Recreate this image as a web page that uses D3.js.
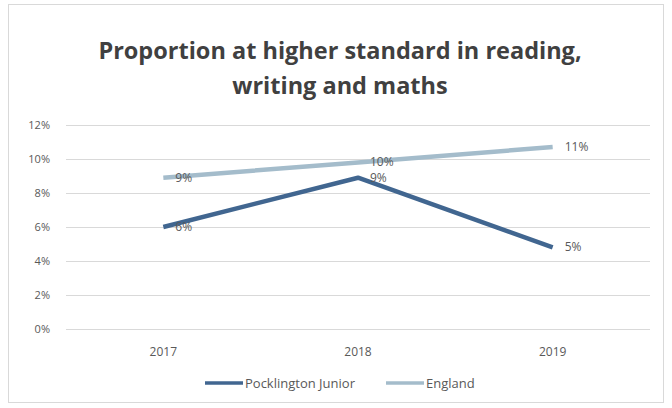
<!DOCTYPE html>
<html>
<head>
<meta charset="utf-8">
<script src="https://cdn.jsdelivr.net/npm/d3@7"></script>
<style>
  body { margin: 0; background: #fff; }
  svg { display: block; }
</style>
</head>
<body>
<svg width="672" height="408"></svg>
<script>
"use strict";

// chart data
const years = ["2017", "2018", "2019"];
const pocklington = [6, 8.9, 4.8];
const england = [8.9, 9.8, 10.7];
const pocklingtonLabels = ["6%", "9%", "5%"];
const englandLabels = ["9%", "10%", "11%"];
const yTicks = [0, 2, 4, 6, 8, 10, 12];

const svg = d3.select("svg");
const width = +svg.attr("width");
const height = +svg.attr("height");

const margin = { top: 125, left: 66, right: 22, bottom: 79 };
const innerWidth = width - margin.left - margin.right;
const innerHeight = height - margin.top - margin.bottom;

const font = "'Open Sans', sans-serif";

// chart frame
svg.append("rect")
  .attr("x", 8.5).attr("y", 4.5)
  .attr("width", 655).attr("height", 398)
  .attr("fill", "#fff")
  .attr("stroke", "#d9d9d9");

// title
const title = svg.append("text")
  .attr("text-anchor", "middle")
  .attr("font-family", font)
  .attr("font-weight", "bold")
  .attr("font-size", 23.5)
  .attr("fill", "#404040");
title.append("tspan").attr("x", 340).attr("y", 59).text("Proportion at higher standard in reading,");
title.append("tspan").attr("x", 340).attr("y", 94).text("writing and maths");

const g = svg.append("g").attr("transform", `translate(${margin.left},${margin.top})`);

const x = d3.scaleBand().domain(years).range([0, innerWidth]);
const y = d3.scaleLinear().domain([0, 12]).range([innerHeight, 0]);

// y axis with gridlines
const yAxis = d3.axisLeft(y).tickValues(yTicks).tickFormat((d) => d + "%").tickSize(-innerWidth).tickPadding(16);
const yg = g.append("g").call(yAxis);
yg.select(".domain").remove();
yg.selectAll(".tick line").attr("stroke", "#d9d9d9");
yg.selectAll(".tick text")
  .attr("fill", "#595959")
  .attr("font-family", font)
  .attr("font-size", 11);

// x axis labels
const xg = g.append("g").attr("transform", `translate(0,${innerHeight})`).call(d3.axisBottom(x).tickSize(0).tickPadding(18));
xg.select(".domain").remove();
xg.selectAll(".tick text")
  .attr("fill", "#595959")
  .attr("font-family", font)
  .attr("font-size", 12);

const cx = (d, i) => x(years[i]) + x.bandwidth() / 2;
const line = d3.line().x(cx).y((d) => y(d));

const series = [
  { name: "England", values: england, labels: englandLabels, color: "#a4bccb" },
  { name: "Pocklington Junior", values: pocklington, labels: pocklingtonLabels, color: "#416690" },
];

series.forEach((s) => {
  g.append("path")
    .datum(s.values)
    .attr("fill", "none")
    .attr("stroke", s.color)
    .attr("stroke-width", 4.5)
    .attr("stroke-linejoin", "round")
    .attr("d", line);

  g.selectAll(null)
    .data(s.values)
    .enter()
    .append("text")
    .attr("x", (d, i) => cx(d, i) + 12)
    .attr("y", (d) => y(d) + 4)
    .attr("fill", "#595959")
    .attr("font-family", font)
    .attr("font-size", 12)
    .text((d, i) => s.labels[i]);
});

// legend
const legend = svg.append("g").attr("transform", "translate(0,383)");
const legendItems = [
  { name: "Pocklington Junior", color: "#416690", x: 205 },
  { name: "England", color: "#a4bccb", x: 386 },
];
legendItems.forEach((d) => {
  legend.append("line")
    .attr("x1", d.x).attr("x2", d.x + 38)
    .attr("stroke", d.color).attr("stroke-width", 3.5);
  legend.append("text")
    .attr("x", d.x + 40).attr("y", 4.5)
    .attr("fill", "#595959")
    .attr("font-family", font)
    .attr("font-size", 13)
    .text(d.name);
});
</script>
</body>
</html>
